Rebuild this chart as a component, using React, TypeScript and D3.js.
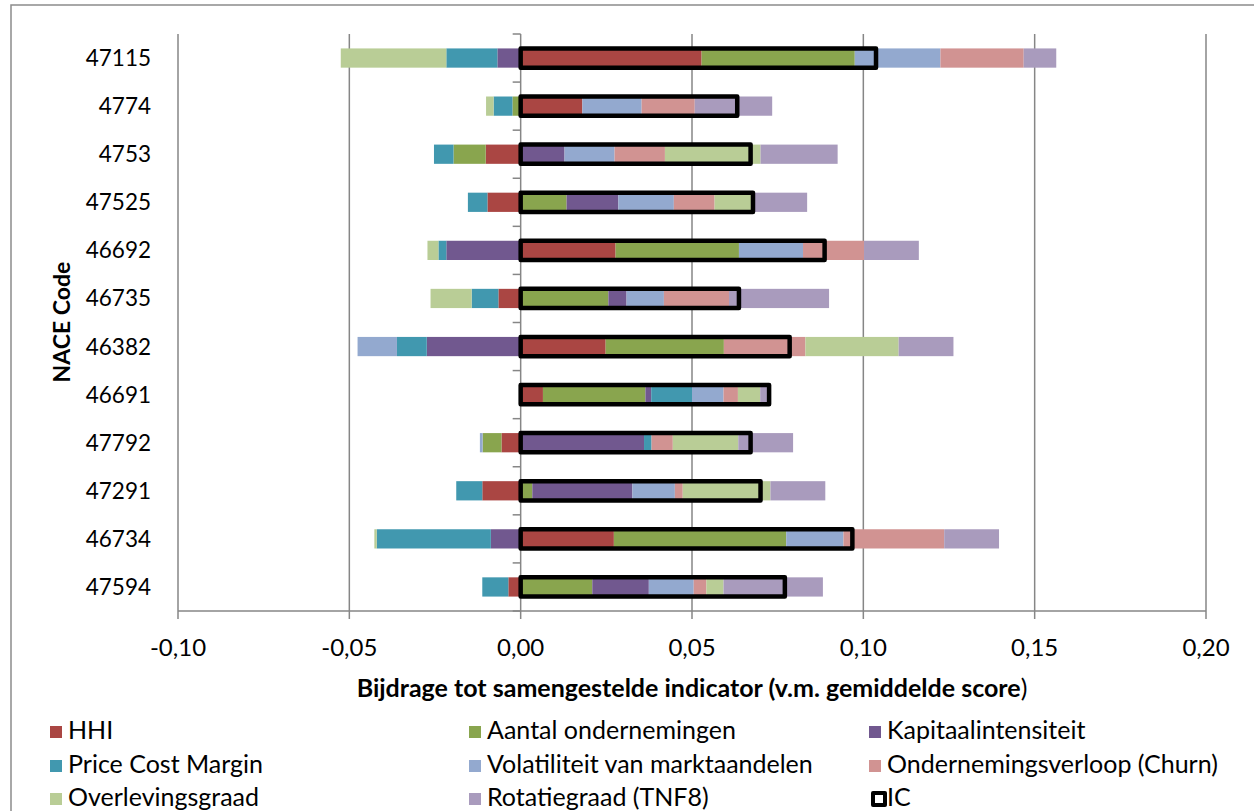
import React from "react";
import * as d3 from "d3";

const categories = ["47115", "4774", "4753", "47525", "46692", "46735", "46382", "46691", "47792", "47291", "46734", "47594"];

const seriesNames = [
  "HHI",
  "Aantal ondernemingen",
  "Kapitaalintensiteit",
  "Price Cost Margin",
  "Volatiliteit van marktaandelen",
  "Ondernemingsverloop (Churn)",
  "Overlevingsgraad",
  "Rotatiegraad (TNF8)",
];
const seriesColors = ["#AA4643", "#89A54E", "#71588F", "#4198AF", "#93A9CF", "#D19392", "#B9CD96", "#A99BBD"];

const hhi = [0.0528, 0.018, -0.0102, -0.0097, 0.0277, -0.0065, 0.0248, 0.0065, -0.0056, -0.0112, 0.0272, -0.0036];
const aantal = [0.0447, -0.0024, -0.0094, 0.0134, 0.036, 0.0256, 0.0345, 0.0299, -0.0055, 0.0034, 0.0503, 0.0209];
const kapitaal = [-0.0068, 0, 0.0128, 0.0151, -0.0217, 0.0053, -0.0274, 0.0017, 0.036, 0.0292, -0.0087, 0.0165];
const pcm = [-0.0149, -0.0055, -0.0057, -0.0057, -0.0023, -0.0078, -0.0087, 0.0119, 0.0022, -0.0076, -0.0333, -0.0076];
const volatiliteit = [0.025, 0.0173, 0.0146, 0.0162, 0.0187, 0.0109, -0.0115, 0.0092, -0.0008, 0.0124, 0.0167, 0.0131];
const churn = [0.0243, 0.0155, 0.0147, 0.0119, 0.0178, 0.019, 0.0238, 0.0042, 0.0062, 0.0023, 0.0294, 0.0037];
const overleving = [-0.0308, -0.0022, 0.0279, 0.011, -0.0032, -0.012, 0.0272, 0.0065, 0.0191, 0.0256, -0.0007, 0.005];
const rotatie = [0.0095, 0.0226, 0.0225, 0.016, 0.016, 0.0292, 0.016, 0.0021, 0.016, 0.016, 0.016, 0.029];
const ic = [0.1037, 0.0632, 0.0671, 0.0678, 0.0887, 0.0637, 0.0785, 0.0725, 0.0671, 0.07, 0.0968, 0.0771];

const xTicks = [-0.1, -0.05, 0, 0.05, 0.1, 0.15, 0.2];

const seriesValues = [hhi, aantal, kapitaal, pcm, volatiliteit, churn, overleving, rotatie];

const W = 1254;
const H = 811;
const FONT = "Lato, 'Open Sans', sans-serif";
const GRID = "#868686";

const locale = d3.formatLocale({ decimal: ",", thousands: ".", grouping: [3], currency: ["", ""], minus: "-" });
const fmt = locale.format(".2f");

export default function App() {
  const x = d3.scaleLinear().domain([-0.1, 0.2]).range([178, 1206]);
  const y = d3.scaleBand<string>().domain(categories).range([34, 611]).padding(0);
  const step = y.step();
  const barH = step * 0.4;

  const rows = categories.map((c, i) => {
    const o: Record<string, number | string> = { cat: c };
    seriesNames.forEach((s, k) => (o[s] = seriesValues[k][i]));
    return o;
  });
  const stack = d3
    .stack<Record<string, number | string>>()
    .keys(seriesNames)
    .value((d, k) => d[k] as number)
    .offset(d3.stackOffsetDiverging);
  const stacked = stack(rows);

  const legendCols = [50, 469, 869];
  const legendRows = [733, 767, 800];
  const legendItems = [...seriesNames.map((n, i) => ({ name: n, color: seriesColors[i] })), { name: "IC", color: "none" }];

  return (
    <svg width={W} height={H} style={{ position: "absolute", left: 0, top: 0, background: "#fff" }} fontFamily={FONT}>
      <rect x={0} y={0} width={W} height={H} fill="#fff" />
      <rect x={11} y={5} width={W + 20} height={H + 20} fill="none" stroke="#8c8c8c" strokeWidth={1.5} />

      {/* gridlines */}
      {xTicks.filter((t) => t !== 0).map((t) => (
        <line key={t} x1={x(t)} x2={x(t)} y1={34} y2={611} stroke={GRID} strokeWidth={1.5} />
      ))}

      {/* stacked bars */}
      {stacked.map((layer, k) => (
        <g key={layer.key} fill={seriesColors[k]}>
          {layer.map((d, i) => {
            const x0 = x(Math.min(d[0], d[1]));
            const x1 = x(Math.max(d[0], d[1]));
            if (x1 - x0 <= 0) return null;
            return <rect key={i} x={x0} y={(y(categories[i]) as number) + (step - barH) / 2} width={x1 - x0} height={barH} />;
          })}
        </g>
      ))}

      {/* zero (category) axis */}
      <line x1={x(0)} x2={x(0)} y1={34} y2={611} stroke={GRID} strokeWidth={1.5} />
      {d3.range(categories.length + 1).map((i) => (
        <line key={i} x1={x(0) - 8} x2={x(0)} y1={34 + i * step} y2={34 + i * step} stroke={GRID} strokeWidth={1.5} />
      ))}

      {/* IC bars */}
      {ic.map((v, i) => (
        <rect
          key={i}
          x={x(Math.min(0, v))}
          y={(y(categories[i]) as number) + (step - barH) / 2}
          width={Math.abs(x(v) - x(0))}
          height={barH}
          fill="none"
          stroke="#000"
          strokeWidth={4.5}
          strokeLinejoin="round"
        />
      ))}

      {/* x axis */}
      <line x1={x(-0.1)} x2={x(0.2)} y1={611} y2={611} stroke={GRID} strokeWidth={1.5} />
      {xTicks.map((t) => (
        <g key={t}>
          <line x1={x(t)} x2={x(t)} y1={611} y2={619} stroke={GRID} strokeWidth={1.5} />
          <text x={x(t)} y={656} textAnchor="middle" fontSize={24} fill="#000">
            {fmt(t)}
          </text>
        </g>
      ))}

      {/* category labels */}
      {categories.map((c) => (
        <text key={c} x={151} y={(y(c) as number) + step / 2 + 8} textAnchor="end" fontSize={22.5} fill="#000">
          {c}
        </text>
      ))}

      {/* axis titles */}
      <text x={692} y={697} textAnchor="middle" fontSize={25} fontWeight="bold" fill="#000">
        Bijdrage tot samengestelde indicator (v.m. gemiddelde score<tspan fontWeight="normal">)</tspan>
      </text>
      <text transform={`translate(70,322) rotate(-90)`} textAnchor="middle" fontSize={23} fontWeight="bold" fill="#000">
        NACE Code
      </text>

      {/* legend */}
      {legendItems.map((it, i) => {
        const cx = legendCols[i % 3];
        const cy = legendRows[Math.floor(i / 3)];
        return (
          <g key={it.name}>
            {it.name === "IC" ? (
              <rect x={cx + 4} y={cy - 7} width={12} height={12} fill="#fff" stroke="#000" strokeWidth={4} strokeLinejoin="round" />
            ) : (
              <rect x={cx} y={cy - 7} width={12} height={12} fill={it.color} />
            )}
            <text x={cx + 18} y={cy + 6} fontSize={25} fill="#000">
              {it.name}
            </text>
          </g>
        );
      })}
    </svg>
  );
}
